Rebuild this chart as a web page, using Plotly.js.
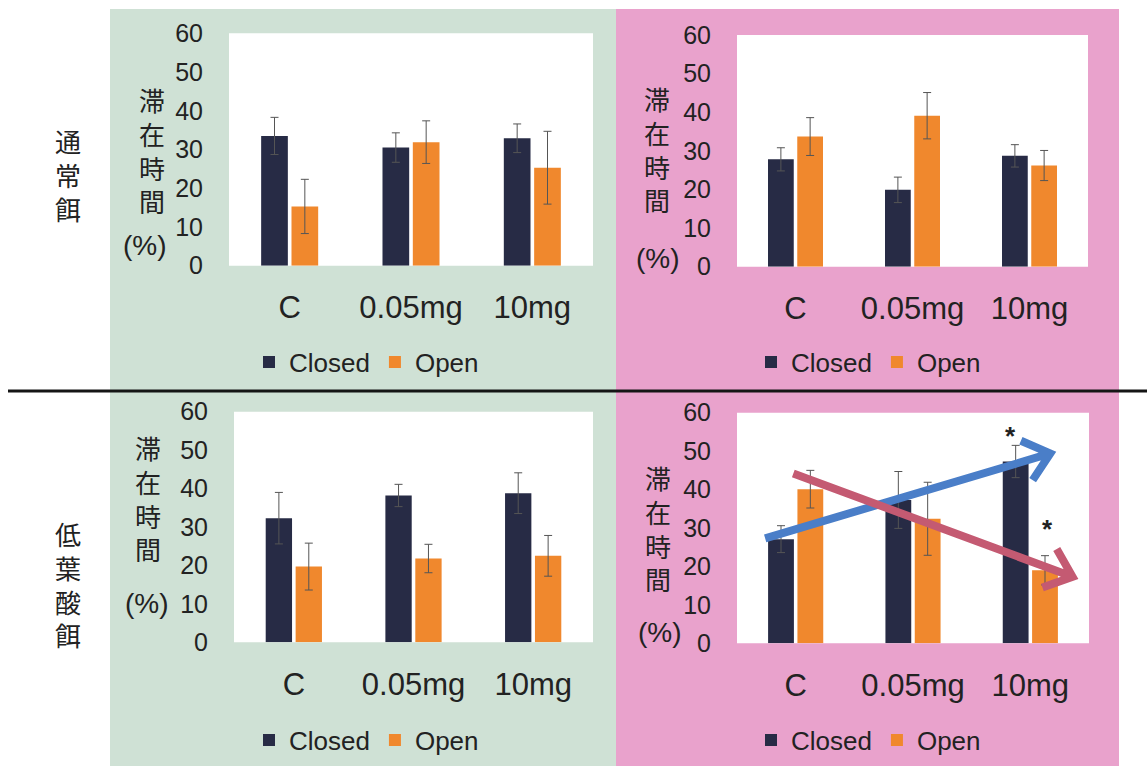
<!DOCTYPE html>
<html>
<head>
<meta charset="utf-8">
<script src="https://cdn.plot.ly/plotly-3.0.1.min.js"></script>
<style>
  html, body { margin: 0; padding: 0; background: #ffffff; }
  #chart { width: 1147px; height: 766px; }
</style>
</head>
<body>
<div id="chart"></div>
<script>
// ---------- data ----------
const categories = ['C', '0.05mg', '10mg'];
const seriesNames = ['Closed', 'Open'];
const rowLabels = ['通常餌', '低葉酸餌'];
const yTitleChars = ['滞', '在', '時', '間'];
const yUnit = '(%)';
const yTickVals = [0, 10, 20, 30, 40, 50, 60];

// 通常餌 – green panel (top left)
const normalGreenClosed    = [33.5, 30.5, 32.9];
const normalGreenClosedErr = [4.8, 3.8, 3.7];
const normalGreenOpen      = [15.3, 31.9, 25.3];
const normalGreenOpenErr   = [7.0, 5.5, 9.4];
// 通常餌 – pink panel (top right)
const normalPinkClosed     = [27.8, 19.9, 28.7];
const normalPinkClosedErr  = [3.0, 3.3, 2.9];
const normalPinkOpen       = [33.7, 39.1, 26.2];
const normalPinkOpenErr    = [4.9, 6.0, 3.9];
// 低葉酸餌 – green panel (bottom left)
const lowGreenClosed       = [32.3, 38.2, 38.8];
const lowGreenClosedErr    = [6.7, 2.9, 5.3];
const lowGreenOpen         = [19.7, 21.8, 22.5];
const lowGreenOpenErr      = [6.1, 3.7, 5.3];
// 低葉酸餌 – pink panel (bottom right)
const lowPinkClosed        = [27.1, 37.3, 47.3];
const lowPinkClosedErr     = [3.5, 7.4, 4.2];
const lowPinkOpen          = [40.1, 32.4, 19.0];
const lowPinkOpenErr       = [4.9, 9.5, 3.8];

// trend arrows in the bottom-right panel: [xStartIndex, yStart, xEndIndex, yEnd]
const blueTrend = [-0.26, 27.3, 2.17, 49.4];
const redTrend  = [-0.02, 44.2, 2.36, 17.3];
// significance marks (bottom-right panel): [xIndex, y]
const starMarks = [[1.83, 54.0], [2.15, 29.8]];

// ---------- styling ----------
const W = 1147, H = 766;
const LATIN = '"Liberation Sans", Arial, Helvetica, sans-serif';
const CJK = '"Noto Sans CJK JP", sans-serif';
const TXT = '#222222';
const NAVY = '#272b45';
const ORANGE = '#f0882d';
const GREEN_BG = '#cfe1d5';
const PINK_BG = '#e9a2cc';

const px = v => v / W;
const py = v => 1 - v / H;

const panels = [
  { closed: normalGreenClosed, closedErr: normalGreenClosedErr, open: normalGreenOpen, openErr: normalGreenOpenErr,
    xd: [229, 593], yd: [33.3, 265.7], legend: 'legend', legX: 249, legY: 362,
    tX: 152, tY: 150, uX: 145, uY: 245 },
  { closed: normalPinkClosed, closedErr: normalPinkClosedErr, open: normalPinkOpen, openErr: normalPinkOpenErr,
    xd: [737, 1088], yd: [35, 266.7], legend: 'legend2', legX: 751, legY: 362,
    tX: 657, tY: 149, uX: 658, uY: 258 },
  { closed: lowGreenClosed, closedErr: lowGreenClosedErr, open: lowGreenOpen, openErr: lowGreenOpenErr,
    xd: [234, 593], yd: [411.7, 642.3], legend: 'legend3', legX: 249, legY: 740,
    tX: 148, tY: 498, uX: 147, uY: 603 },
  { closed: lowPinkClosed, closedErr: lowPinkClosedErr, open: lowPinkOpen, openErr: lowPinkOpenErr,
    xd: [737, 1089], yd: [412.7, 643.3], legend: 'legend4', legX: 751, legY: 740,
    tX: 658, tY: 528, uX: 660, uY: 632 }
];

const data = [];
const layout = {
  width: W, height: H,
  margin: { l: 0, r: 0, t: 0, b: 0 },
  paper_bgcolor: '#ffffff',
  plot_bgcolor: '#ffffff',
  barmode: 'group',
  bargap: 0.5,
  bargroupgap: 0.12,
  font: { family: LATIN, color: TXT },
  shapes: [],
  annotations: []
};

// panel backgrounds
layout.shapes.push({ type: 'rect', xref: 'paper', yref: 'paper', x0: px(110), x1: px(616), y0: 0, y1: py(9),
  fillcolor: GREEN_BG, line: { width: 0 }, layer: 'below' });
layout.shapes.push({ type: 'rect', xref: 'paper', yref: 'paper', x0: px(616), x1: px(1119), y0: 0, y1: py(9),
  fillcolor: PINK_BG, line: { width: 0 }, layer: 'below' });
// separator line between rows
layout.shapes.push({ type: 'line', xref: 'paper', yref: 'paper', x0: px(8), x1: 1, y0: py(391), y1: py(391),
  line: { color: '#151515', width: 3 } });

panels.forEach((p, i) => {
  const n = i === 0 ? '' : String(i + 1);
  const xa = 'x' + n, ya = 'y' + n;
  // white plotting area on top of the coloured panel
  layout.shapes.push({ type: 'rect', xref: xa + ' domain', yref: ya + ' domain', x0: 0, x1: 1, y0: 0, y1: 1,
    fillcolor: '#ffffff', line: { width: 0 }, layer: 'below' });
  const errStyle = { type: 'data', visible: true, color: '#555555', thickness: 1, width: 4 };
  data.push({
    type: 'bar', name: seriesNames[0], x: categories, y: p.closed,
    error_y: Object.assign({ array: p.closedErr }, errStyle),
    marker: { color: NAVY }, xaxis: xa, yaxis: ya, legend: p.legend
  });
  data.push({
    type: 'bar', name: seriesNames[1], x: categories, y: p.open,
    error_y: Object.assign({ array: p.openErr }, errStyle),
    marker: { color: ORANGE }, xaxis: xa, yaxis: ya, legend: p.legend
  });
  layout['xaxis' + n] = {
    domain: [px(p.xd[0]), px(p.xd[1])], anchor: ya, type: 'category',
    showgrid: false, zeroline: false, showline: false,
    ticks: 'outside', ticklen: 14, tickcolor: 'rgba(0,0,0,0)',
    tickfont: { size: 31, color: TXT, family: LATIN }, fixedrange: true
  };
  layout['yaxis' + n] = {
    domain: [py(p.yd[1]), py(p.yd[0])], anchor: xa, range: [0, 60],
    tickmode: 'array', tickvals: yTickVals,
    showgrid: false, zeroline: false, showline: false,
    ticks: 'outside', ticklen: 20, tickcolor: 'rgba(0,0,0,0)',
    tickfont: { size: 25, color: TXT, family: LATIN }, fixedrange: true
  };
  layout[p.legend] = {
    orientation: 'h', x: px(p.legX), y: py(p.legY), xanchor: 'left', yanchor: 'middle',
    bgcolor: 'rgba(0,0,0,0)', borderwidth: 0,
    font: { size: 26, color: TXT, family: LATIN }
  };
  layout.annotations.push({
    xref: 'paper', yref: 'paper', x: px(p.tX), y: py(p.tY), xanchor: 'center', yanchor: 'middle',
    text: yTitleChars.join('<br>'), showarrow: false,
    font: { family: CJK, size: 26, color: TXT }
  });
  layout.annotations.push({
    xref: 'paper', yref: 'paper', x: px(p.uX), y: py(p.uY), xanchor: 'center', yanchor: 'middle',
    text: yUnit, showarrow: false, font: { family: LATIN, size: 28, color: TXT }
  });
});

// row labels
[[68, 175], [68, 584]].forEach((pos, i) => {
  layout.annotations.push({
    xref: 'paper', yref: 'paper', x: px(pos[0]), y: py(pos[1]), xanchor: 'center', yanchor: 'middle',
    text: rowLabels[i].split('').join('<br>'), showarrow: false,
    font: { family: CJK, size: 26, color: TXT }
  });
});

// significance marks
starMarks.forEach(s => {
  layout.annotations.push({
    xref: 'x4', yref: 'y4', x: s[0], y: s[1], xanchor: 'center', yanchor: 'middle',
    text: '<b>*</b>', showarrow: false, font: { family: LATIN, size: 26, color: TXT }
  });
});

// trend arrows (bottom-right panel), open chevron heads
const p4 = panels[3];
const xPx = (p4.xd[1] - p4.xd[0]) / categories.length;
const yPx = (p4.yd[1] - p4.yd[0]) / 60;
function arrowPath(a) {
  const [x0, y0, x1, y1] = a;
  const th = Math.atan2((y1 - y0) * yPx, (x1 - x0) * xPx);
  const L = 32, phi = 40 * Math.PI / 180;
  const arm = s => {
    const ang = th + Math.PI + s * phi;
    return [x1 + L * Math.cos(ang) / xPx, y1 + L * Math.sin(ang) / yPx];
  };
  const a1 = arm(1), a2 = arm(-1);
  return `M${x0},${y0} L${x1},${y1} M${a1[0]},${a1[1]} L${x1},${y1} L${a2[0]},${a2[1]}`;
}
layout.shapes.push({ type: 'path', xref: 'x4', yref: 'y4', path: arrowPath(blueTrend),
  line: { color: '#4a7ec8', width: 8 } });
layout.shapes.push({ type: 'path', xref: 'x4', yref: 'y4', path: arrowPath(redTrend),
  line: { color: '#c45a72', width: 8 } });

Plotly.newPlot('chart', data, layout, { displayModeBar: false, staticPlot: true });
</script>
</body>
</html>
